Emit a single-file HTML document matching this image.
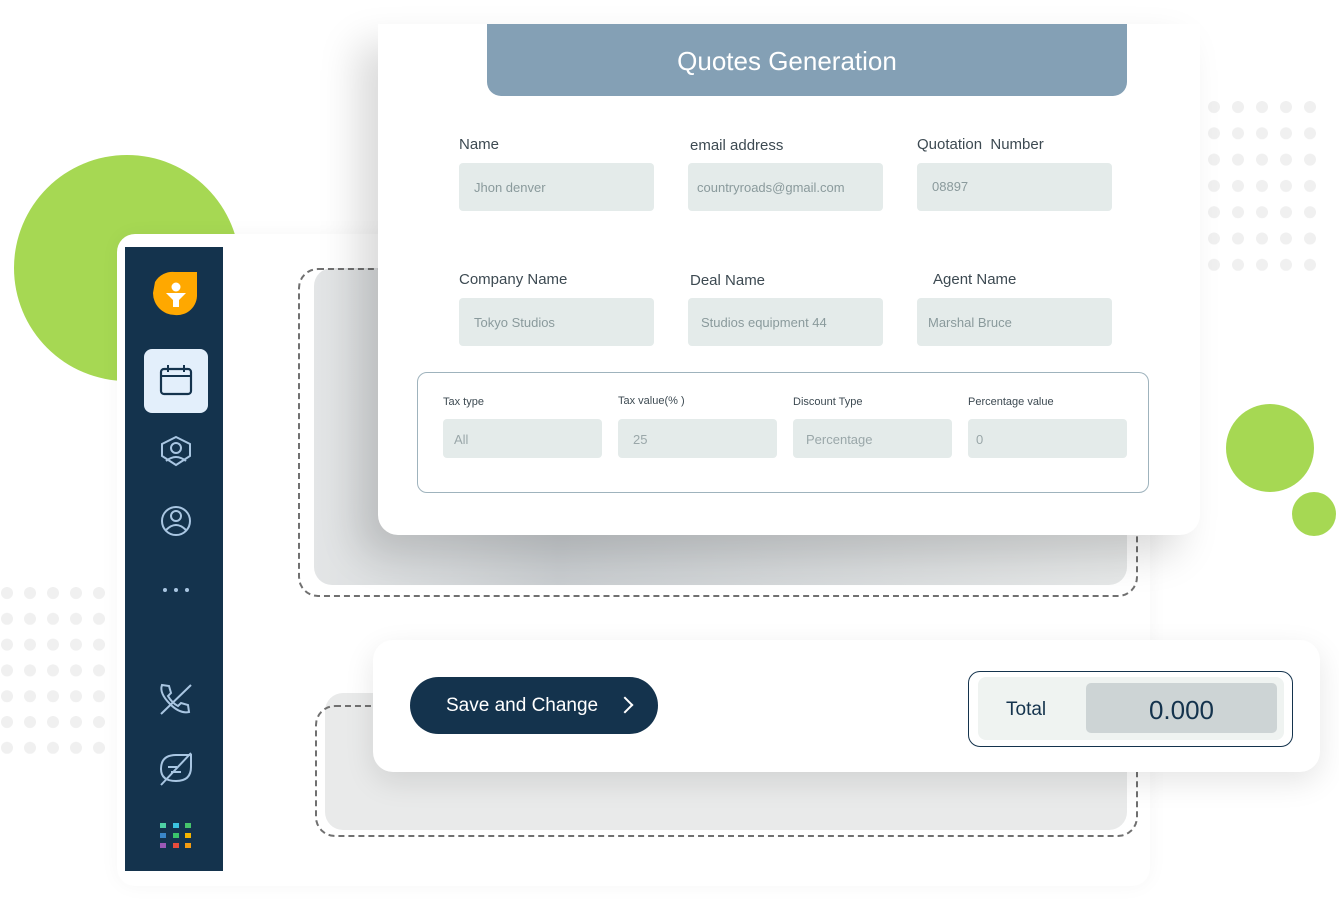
<!DOCTYPE html>
<html><head><meta charset="utf-8"><style>
*{margin:0;padding:0;box-sizing:border-box}
body{width:1339px;height:911px;background:#fff;position:relative;overflow:hidden;font-family:"Liberation Sans",sans-serif}
.a{position:absolute}
.lab{position:absolute;font-size:15px;color:#3d4a52}
.inp{position:absolute;width:195px;height:48px;background:#e4ebea;border-radius:4px;font-size:13px;color:#8a9a9c;padding-left:15px;line-height:48px}
.sl{position:absolute;font-size:11px;color:#3d4a52}
.si{position:absolute;width:159px;height:39px;background:#e4ebea;border-radius:4px;font-size:13px;color:#9aa7a9;padding-left:11px;line-height:39px}
</style></head><body>
<svg class="a" style="left:0;top:0" width="1339" height="911">
<defs>
<pattern id="d" x="1208" y="101" width="24" height="26.3" patternUnits="userSpaceOnUse"><circle cx="6" cy="6" r="6" fill="#f0f0f0"/></pattern>
<pattern id="d2" x="1" y="587" width="23" height="25.8" patternUnits="userSpaceOnUse"><circle cx="6" cy="6" r="6" fill="#f0f0f0"/></pattern>
</defs>
<rect x="1208" y="101" width="110" height="172" fill="url(#d)"/>
<rect x="1" y="587" width="110" height="168" fill="url(#d2)"/>
<circle cx="127" cy="268" r="113" fill="#a6d853"/>
<circle cx="1270" cy="448" r="44" fill="#a6d853"/>
<circle cx="1314" cy="514" r="22" fill="#a6d853"/>
</svg>
<div class="a" style="left:117px;top:234px;width:1033px;height:652px;background:#fff;border-radius:18px;box-shadow:0 0 20px rgba(0,0,0,0.04)"></div>
<div class="a" style="left:314px;top:268px;width:813px;height:317px;background:linear-gradient(90deg,#e3e5e6,#c9cdd0 30%,#e6e8e8);border-radius:18px"></div>
<div class="a" style="left:298px;top:268px;width:840px;height:329px;border:2px dashed #707070;border-radius:20px"></div>
<div class="a" style="left:325px;top:693px;width:802px;height:137px;background:#e9eaea;border-radius:18px"></div>
<div class="a" style="left:315px;top:705px;width:823px;height:132px;border:2px dashed #707070;border-radius:20px"></div>
<div class="a" style="left:125px;top:247px;width:98px;height:624px;background:#14334d"></div>
<svg class="a" style="left:125px;top:247px" width="98" height="624">
<path d="M30 35 a20 20 0 0 1 20 -10 h22 v22 a20 20 0 0 1 -22 21 a22 22 0 0 1 -22 -22 z" fill="#ffa800"/>
<circle cx="51" cy="40" r="4.5" fill="#fff"/><path d="M41 46 h20 l-7 7 v7 h-6 v-7 z" fill="#fff"/>
<rect x="19" y="102" width="64" height="64" rx="8" fill="#e3effb"/>
<rect x="36" y="122" width="30" height="25" rx="3" fill="none" stroke="#14334d" stroke-width="2.2"/>
<line x1="36" y1="129" x2="66" y2="129" stroke="#14334d" stroke-width="2"/>
<line x1="43" y1="118" x2="43" y2="125" stroke="#14334d" stroke-width="2"/><line x1="59" y1="118" x2="59" y2="125" stroke="#14334d" stroke-width="2"/>
<g fill="none" stroke="#a9c6e2" stroke-width="2">
<path d="M51 190 l14 7 v12 l-14 9 l-14 -9 v-12 z"/><circle cx="51" cy="201" r="5"/><path d="M41 214 q10 -8 20 0"/>
<circle cx="51" cy="274" r="14"/><circle cx="51" cy="269" r="5"/><path d="M41 283 q10 -10 20 0"/>
<path d="M37 438 q-3 8 8 19 q10 10 19 8 l-1 -7 l-7 -2 l-3 3 q-6 -3 -10 -10 l3 -3 l-2 -7 z"/><line x1="36" y1="467" x2="66" y2="438"/>
<path d="M36 522 q0 -14 15 -14 h15 v12 q0 14 -15 14 q-15 0 -15 -12 z"/><line x1="36" y1="538" x2="66" y2="506"/><line x1="43" y1="520" x2="52" y2="520"/><line x1="46" y1="525" x2="56" y2="525"/>
</g>
<circle cx="40" cy="343" r="2" fill="#a9c6e2"/><circle cx="51" cy="343" r="2" fill="#a9c6e2"/><circle cx="62" cy="343" r="2" fill="#a9c6e2"/>
<rect x="35" y="576" width="6" height="5" fill="#4fd1a5"/><rect x="48" y="576" width="6" height="5" fill="#3bc3e0"/><rect x="60" y="576" width="6" height="5" fill="#46c46b"/>
<rect x="35" y="586" width="6" height="5" fill="#3a86c8"/><rect x="48" y="586" width="6" height="5" fill="#3ac46b"/><rect x="60" y="586" width="6" height="5" fill="#f4b400"/>
<rect x="35" y="596" width="6" height="5" fill="#9b59b6"/><rect x="48" y="596" width="6" height="5" fill="#e74c3c"/><rect x="60" y="596" width="6" height="5" fill="#f39c12"/>
</svg>
<div class="a" style="left:378px;top:24px;width:822px;height:511px;background:#fff;border-radius:0 0 20px 20px;box-shadow:-20px 20px 40px rgba(0,0,0,0.15)"></div>
<div class="a" style="left:487px;top:24px;width:640px;height:72px;background:#84a0b5;border-radius:0 0 14px 14px;color:#fff;font-size:26px;text-align:center;line-height:74px;padding-right:40px">Quotes Generation</div>
<div class="lab" style="left:459px;top:136px">Name</div>
<div class="lab" style="left:690px;top:137px">email address</div>
<div class="lab" style="left:917px;top:136px">Quotation&nbsp; Number</div>
<div class="inp" style="left:459px;top:163px;line-height:50px">Jhon denver</div>
<div class="inp" style="left:688px;top:163px;padding-left:9px;line-height:50px">countryroads@gmail.com</div>
<div class="inp" style="left:917px;top:163px;line-height:48px">08897</div>
<div class="lab" style="left:459px;top:271px">Company Name</div>
<div class="lab" style="left:690px;top:272px">Deal Name</div>
<div class="lab" style="left:933px;top:271px">Agent Name</div>
<div class="inp" style="left:459px;top:298px;line-height:50px">Tokyo Studios</div>
<div class="inp" style="left:688px;top:298px;padding-left:13px;line-height:50px">Studios equipment 44</div>
<div class="inp" style="left:917px;top:298px;padding-left:11px;line-height:50px">Marshal Bruce</div>
<div class="a" style="left:417px;top:372px;width:732px;height:121px;border:1px solid #9fb3bd;border-radius:10px"></div>
<div class="sl" style="left:443px;top:396px">Tax type</div>
<div class="sl" style="left:618px;top:395px">Tax value(% )</div>
<div class="sl" style="left:793px;top:396px">Discount Type</div>
<div class="sl" style="left:968px;top:396px">Percentage value</div>
<div class="si" style="left:443px;top:419px;line-height:41px">All</div>
<div class="si" style="left:618px;top:419px;padding-left:15px;line-height:41px">25</div>
<div class="si" style="left:793px;top:419px;padding-left:13px;line-height:41px">Percentage</div>
<div class="si" style="left:968px;top:419px;padding-left:8px;line-height:41px">0</div>
<div class="a" style="left:373px;top:640px;width:947px;height:132px;background:#fff;border-radius:20px;box-shadow:0 10px 30px rgba(0,0,0,0.1)"></div>
<div class="a" style="left:410px;top:677px;width:248px;height:57px;background:#14334d;border-radius:29px;color:#fff;font-size:19px;line-height:58px;padding-left:36px">Save and Change<span style="position:absolute;left:209px;top:22px;width:12px;height:12px;border-right:2.5px solid #fff;border-top:2.5px solid #fff;transform:rotate(45deg);display:block"></span></div>
<div class="a" style="left:968px;top:671px;width:325px;height:76px;border:1px solid #14334d;border-radius:12px"></div>
<div class="a" style="left:978px;top:677px;width:306px;height:63px;background:#eff3f1;border-radius:8px"></div>
<div class="a" style="left:1006px;top:699px;font-size:19px;color:#14334d">Total</div>
<div class="a" style="left:1086px;top:683px;width:191px;height:50px;background:#cdd4d5;border-radius:5px;font-size:26px;color:#14334d;text-align:center;line-height:54px">0.000</div>
</body></html>
